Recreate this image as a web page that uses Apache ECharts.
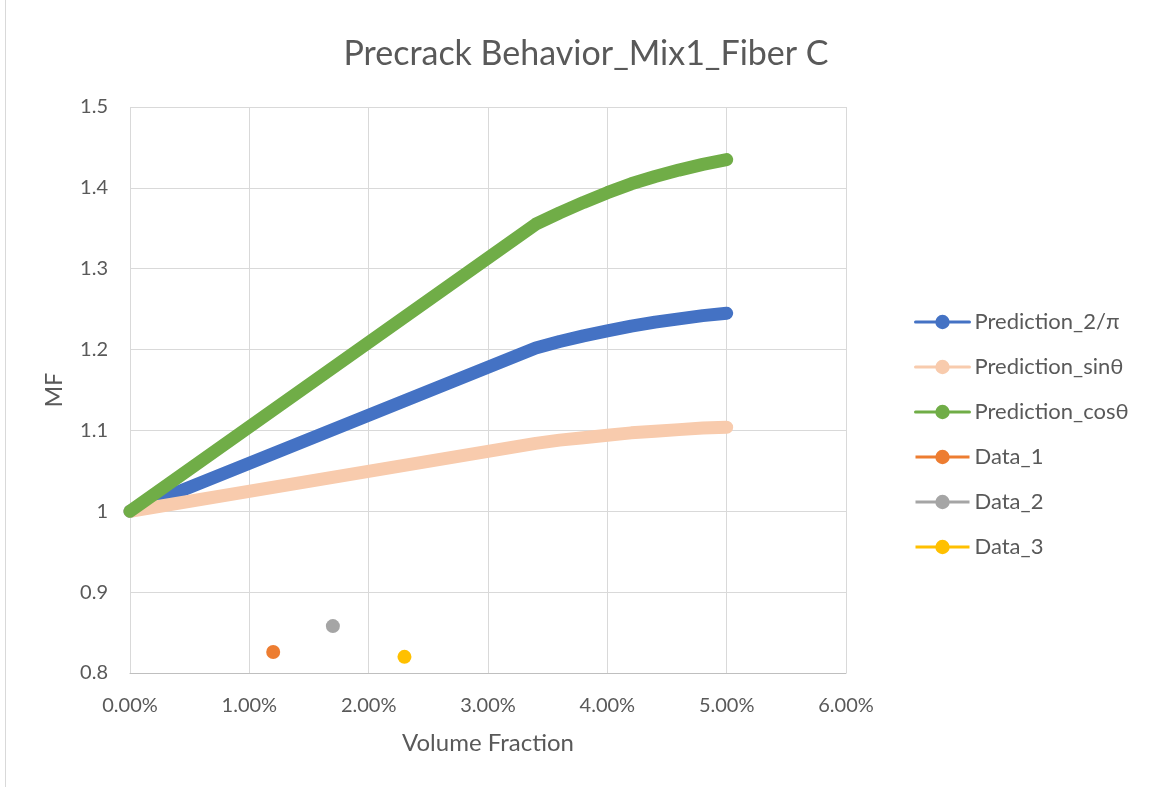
<!DOCTYPE html>
<html>
<head>
<meta charset="utf-8">
<title>Precrack Behavior_Mix1_Fiber C</title>
<script src="https://cdn.jsdelivr.net/npm/echarts@6/dist/echarts.min.js"></script>
<style>
  html, body { margin: 0; padding: 0; background: #ffffff; }
  #chart { width: 1155px; height: 787px; position: relative; }
  #frame { position: absolute; left: 5px; top: 0; width: 1px; height: 787px; background: #d9d9d9; }
</style>
</head>
<body>
<div id="chart"></div>
<div id="frame"></div>
<script>
// Volume fraction (as a fraction) shared by the three prediction curves
const volumeFraction = [0, 0.034, 0.036, 0.038, 0.040, 0.042, 0.044, 0.046, 0.048, 0.050];

// MF predictions
const pred2pi = [1.000, 1.202, 1.210, 1.217, 1.223, 1.229, 1.234, 1.238, 1.242, 1.245];
const predSin = [1.000, 1.084, 1.088, 1.091, 1.094, 1.097, 1.099, 1.101, 1.103, 1.104];
const predCos = [1.000, 1.355, 1.369, 1.382, 1.394, 1.405, 1.414, 1.422, 1.429, 1.435];

// Measured points [volume fraction, MF]
const data1 = [[0.012, 0.826]];
const data2 = [[0.017, 0.858]];
const data3 = [[0.023, 0.820]];

// Axis ticks
const xTicks = { min: 0, max: 0.06, interval: 0.01 };
const yTicks = { min: 0.8, max: 1.5, interval: 0.1 };

const seriesNames = ['Prediction_2/\u03C0', 'Prediction_sin\u03B8', 'Prediction_cos\u03B8', 'Data_1', 'Data_2', 'Data_3'];
const colors = ['#4472C4', '#F8CBAD', '#70AD47', '#ED7D31', '#A5A5A5', '#FFC000'];

const FONT = 'Lato, "Liberation Sans", sans-serif';
const TEXT = '#595959';

function pairs(xs, ys) { return xs.map((x, i) => [x, ys[i]]); }

function curve(name, color, values) {
  return {
    name: name, type: 'line', data: pairs(volumeFraction, values),
    symbol: 'circle', showSymbol: false, symbolSize: 14,
    itemStyle: { color: color },
    lineStyle: { color: color, width: 13, cap: 'round', join: 'round' },
    emphasis: { disabled: true }, animation: false, z: 2
  };
}

function point(name, color, pts) {
  return {
    name: name, type: 'line', data: pts,
    symbol: 'circle', symbolSize: 14,
    itemStyle: { color: color },
    lineStyle: { color: color, width: 3 },
    emphasis: { disabled: true }, animation: false, z: 3
  };
}

const chart = echarts.init(document.getElementById('chart'), null, { renderer: 'canvas' });
chart.setOption({
  backgroundColor: '#ffffff',
  animation: false,
  color: colors,
  title: {
    text: 'Precrack Behavior_Mix1_Fiber C',
    left: 581, textAlign: 'center', top: 32,
    textStyle: { fontFamily: FONT, fontSize: 34, fontWeight: 'normal', color: TEXT }
  },
  grid: { left: 130, right: 309, top: 107, bottom: 114, containLabel: false },
  legend: {
    orient: 'vertical', left: 909, top: 306,
    itemWidth: 54, itemHeight: 18, itemGap: 23,
    lineStyle: { width: 3 },
    textStyle: { fontFamily: FONT, fontSize: 22, color: TEXT, lineHeight: 18 },
    data: seriesNames
  },
  xAxis: {
    type: 'value', min: xTicks.min, max: xTicks.max, interval: xTicks.interval,
    name: 'Volume Fraction', nameLocation: 'middle', nameGap: 58,
    nameTextStyle: { fontFamily: FONT, fontSize: 24, color: TEXT },
    axisLine: { show: true, lineStyle: { color: '#bfbfbf', width: 1 } },
    axisTick: { show: false },
    axisLabel: {
      fontFamily: FONT, fontSize: 20, color: TEXT, margin: 23,
      formatter: v => (v * 100).toFixed(2) + '%'
    },
    splitLine: { show: true, lineStyle: { color: '#d9d9d9', width: 1 } }
  },
  yAxis: {
    type: 'value', min: yTicks.min, max: yTicks.max, interval: yTicks.interval,
    name: 'MF', nameLocation: 'middle', nameGap: 64,
    nameTextStyle: { fontFamily: FONT, fontSize: 23, color: TEXT },
    axisLine: { show: false },
    axisTick: { show: false },
    axisLabel: {
      fontFamily: FONT, fontSize: 20, color: TEXT, margin: 22,
      formatter: v => String(Math.round(v * 10) / 10)
    },
    splitLine: { show: true, lineStyle: { color: '#d9d9d9', width: 1 } }
  },
  series: [
    curve(seriesNames[0], colors[0], pred2pi),
    curve(seriesNames[1], colors[1], predSin),
    curve(seriesNames[2], colors[2], predCos),
    point(seriesNames[3], colors[3], data1),
    point(seriesNames[4], colors[4], data2),
    point(seriesNames[5], colors[5], data3)
  ]
});
</script>
</body>
</html>
